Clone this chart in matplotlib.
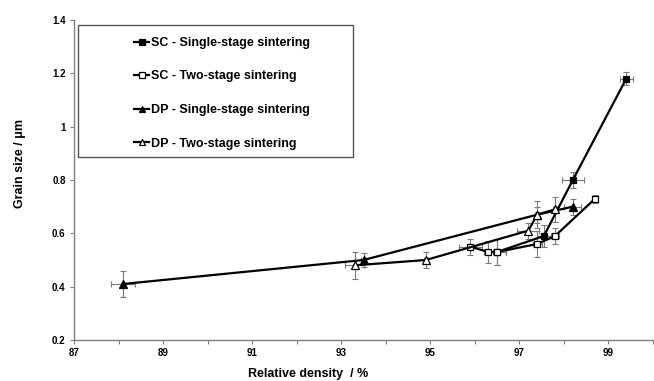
import numpy as np
import matplotlib
matplotlib.use("Agg")
import matplotlib.pyplot as plt
from matplotlib.patches import Rectangle

plt.rcParams['font.family'] = ['Liberation Sans', 'DejaVu Sans']

# SC - single-stage sintering (filled squares)
sc1_x = [96.5, 97.55, 98.2, 99.4]
sc1_y = [0.53, 0.59, 0.80, 1.18]
sc1_xerr = [0.2, 0.15, 0.24, 0.15]
sc1_yerr = [0.05, 0.04, 0.03, 0.025]

# SC - two-stage sintering (open squares)
sc2_x = [95.9, 96.3, 96.5, 97.4, 97.8, 98.7]
sc2_y = [0.55, 0.53, 0.53, 0.56, 0.59, 0.73]
sc2_xerr = [0.26, 0.1, 0.2, 0.1, 0.1, 0.05]
sc2_yerr = [0.03, 0.04, 0.05, 0.05, 0.03, 0.015]

# DP - single-stage sintering (filled triangles)
dp1_x = [88.1, 93.5, 97.4, 98.2]
dp1_y = [0.41, 0.50, 0.67, 0.70]
dp1_xerr = [0.28, 0.05, 0.05, 0.19]
dp1_yerr = [0.05, 0.026, 0.03, 0.03]

# DP - two-stage sintering (open triangles)
dp2_x = [93.3, 94.9, 97.2, 97.4, 97.8]
dp2_y = [0.48, 0.50, 0.61, 0.67, 0.69]
dp2_xerr = [0.22, 0.05, 0.25, 0.05, 0.05]
dp2_yerr = [0.05, 0.03, 0.03, 0.05, 0.047]

labels = ['SC - Single-stage sintering', 'SC - Two-stage sintering',
          'DP - Single-stage sintering', 'DP - Two-stage sintering']

fig = plt.figure(figsize=(6.54, 3.81), dpi=100)
ax = fig.add_axes([74/654, 1-340/381, 579/654, 320/381])

series = [
    (sc1_x, sc1_y, sc1_xerr, sc1_yerr, 's', 'black', 4.6),
    (sc2_x, sc2_y, sc2_xerr, sc2_yerr, 's', 'white', 4.6),
    (dp1_x, dp1_y, dp1_xerr, dp1_yerr, '^', 'black', 5.2),
    (dp2_x, dp2_y, dp2_xerr, dp2_yerr, '^', 'white', 5.2),
]

handles = []
for (x, y, xe, ye, m, fc, ms), lab in zip(series, labels):
    ax.errorbar(x, y, xerr=xe, yerr=ye, fmt='none', ecolor='#7a7a7a',
                elinewidth=0.8, capsize=2.5, capthick=0.8, zorder=2)
    h, = ax.plot(x, y, color='black', lw=1.6, marker=m, markersize=ms,
                 markerfacecolor=fc, markeredgecolor='black',
                 markeredgewidth=0.9, label=lab, zorder=3)
    handles.append(h)

ax.set_xlim(87, 100)
ax.set_ylim(0.2, 1.4)
ax.set_xticks(np.arange(87, 101, 1))
ax.set_xticklabels([str(v) if v % 2 == 1 else '' for v in range(87, 101)])
ax.set_yticks([0.2, 0.4, 0.6, 0.8, 1.0, 1.2, 1.4])
ax.set_yticklabels(['0.2', '0.4', '0.6', '0.8', '1', '1.2', '1.4'])

for s in ['top', 'right']:
    ax.spines[s].set_visible(False)
for s in ['left', 'bottom']:
    ax.spines[s].set_color('#808080')
    ax.spines[s].set_linewidth(1)
ax.tick_params(direction='out', length=3, width=0.8, color='#808080',
               labelsize=7, pad=3)
for t in ax.get_xticklabels() + ax.get_yticklabels():
    t.set_fontweight('bold')

ax.set_xlabel('Relative density  / %', fontsize=9, fontweight='bold')
ax.set_ylabel('Grain size / \u03bcm', fontsize=9, fontweight='bold')
ax.xaxis.set_label_coords(0.405, -0.088)
ax.yaxis.set_label_coords(-0.083, 0.553)

# legend box
fig.patches.append(Rectangle((78/654, 1-157/381), 275/654, 132/381,
                             transform=fig.transFigure, fill=False,
                             edgecolor='#555555', lw=1))
leg = fig.legend(handles=handles, loc='upper left',
                 bbox_to_anchor=(124/654, 1-27/381), frameon=False,
                 prop={'weight': 'bold', 'size': 9},
                 handlelength=1.2, handletextpad=0.15, labelspacing=1.72,
                 markerscale=0.8, borderpad=0.3)

fig.savefig('out.png', dpi=100)
